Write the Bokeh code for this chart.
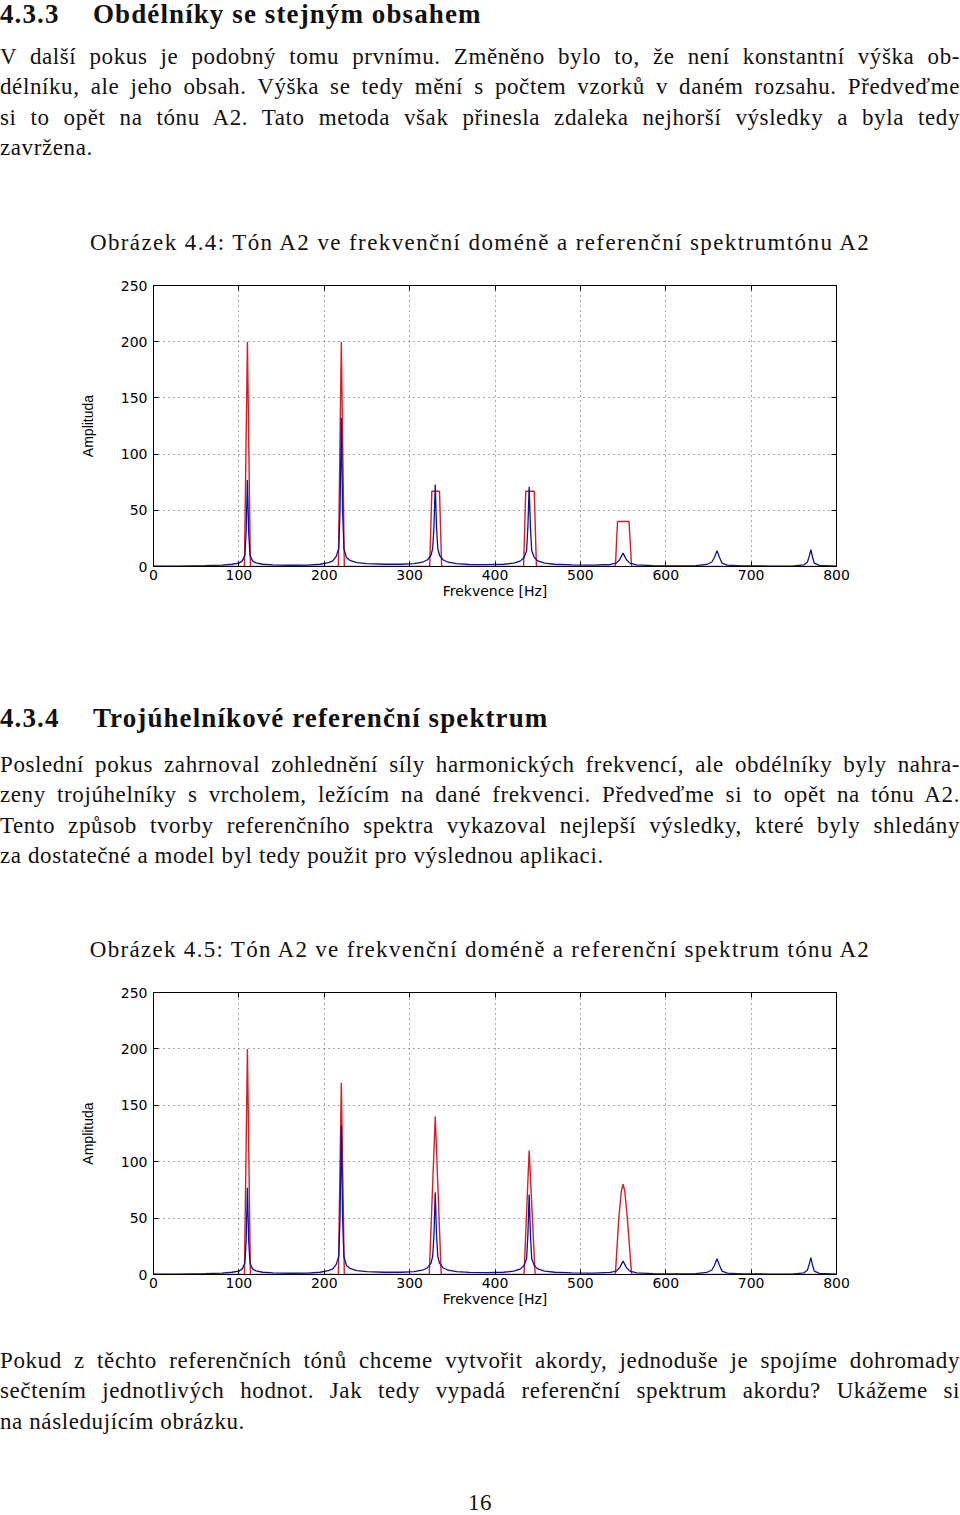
from bokeh.plotting import figure
from bokeh.models import Div, LinearAxis, FixedTicker, Range1d
from bokeh.layouts import column
from bokeh.embed import file_html
from bokeh.resources import INLINE

# ---------------- data ----------------
x_ticks = [0, 100, 200, 300, 400, 500, 600, 700, 800]
y_ticks = [0, 50, 100, 150, 200, 250]

# measured spectrum of tone A2 (blue)
blue_freq = [0, 30, 60, 80, 92, 100, 104, 107, 108.5, 110, 111.5, 113, 116, 120, 128, 140, 160, 180, 195,
             205, 210, 214, 217, 218.5, 220, 221.5, 223, 226, 230, 238, 250, 270, 290, 305, 315, 321, 325,
             327, 328.5, 330, 331.5, 333, 335, 339, 345, 355, 370, 390, 410, 422, 430, 434, 437, 438.5, 440,
             441.5, 443, 446, 450, 458, 470, 490, 515, 535, 542, 546, 548, 550, 552, 554, 558, 566, 585,
             610, 635, 648, 654, 657, 660, 663, 666, 672, 690, 720, 750, 762, 766, 768, 770, 772, 774, 780, 800]
blue_amp = [0.3, 0.4, 0.7, 1.2, 2, 3, 5, 10, 30, 77, 30, 10, 5, 3.2, 2, 1.4, 1.1, 1.2, 2,
            3.5, 5, 9, 16, 50, 132, 50, 16, 8, 5.5, 3.5, 2.6, 2, 2, 2.6, 3.8, 6, 10,
            16, 35, 73, 35, 16, 10, 6, 3.8, 2.5, 1.8, 1.6, 2, 3, 5, 8, 14, 35, 71,
            35, 14, 8, 5, 3, 2, 1.4, 1.2, 1.8, 3, 6, 9, 12, 9, 6, 3, 1.5, 0.8,
            0.6, 0.8, 1.8, 4, 8, 14, 8, 3, 1.2, 0.6, 0.4, 0.6, 1.5, 4, 9, 15, 8, 3, 1, 0.4]

# reference spectrum, rectangles of equal area (red, figure 4.4)
rect_freq = [0, 106.5, 110, 113.5, 216.5, 220, 223.5, 323.5, 326, 335, 337.5, 433.5, 436, 446, 448.5,
             541, 543.5, 557, 560, 800]
rect_amp = [0, 0, 200, 0, 0, 200, 0, 0, 67, 67, 0, 0, 67, 67, 0, 0, 40, 40, 0, 0]

# reference spectrum, triangles (red, figure 4.5)
tri_freq = [0, 106.5, 110, 113.5, 216.5, 220, 223.5, 323, 330, 337, 434, 440, 447, 541, 545, 548, 550,
            552, 555, 560, 800]
tri_amp = [0, 0, 200, 0, 0, 170, 0, 0, 140, 0, 0, 110, 0, 0, 50, 74, 80, 74, 50, 0, 0]

# ---------------- texts ----------------
head1_num, head1_title = "4.3.3", "Obdélníky se stejným obsahem"
para1 = [
    "V další pokus je podobný tomu prvnímu. Změněno bylo to, že není konstantní výška ob-",
    "délníku, ale jeho obsah. Výška se tedy mění s počtem vzorků v daném rozsahu. Předveďme",
    "si to opět na tónu A2. Tato metoda však přinesla zdaleka nejhorší výsledky a byla tedy",
    "zavržena.",
]
caption1 = "Obrázek 4.4: Tón A2 ve frekvenční doméně a referenční spektrumtónu A2"
head2_num, head2_title = "4.3.4", "Trojúhelníkové referenční spektrum"
para2 = [
    "Poslední pokus zahrnoval zohlednění síly harmonických frekvencí, ale obdélníky byly nahra-",
    "zeny trojúhelníky s vrcholem, ležícím na dané frekvenci. Předveďme si to opět na tónu A2.",
    "Tento způsob tvorby referenčního spektra vykazoval nejlepší výsledky, které byly shledány",
    "za dostatečné a model byl tedy použit pro výslednou aplikaci.",
]
caption2 = "Obrázek 4.5: Tón A2 ve frekvenční doméně a referenční spektrum tónu A2"
para3 = [
    "Pokud z těchto referenčních tónů chceme vytvořit akordy, jednoduše je spojíme dohromady",
    "sečtením jednotlivých hodnot. Jak tedy vypadá referenční spektrum akordu? Ukážeme si",
    "na následujícím obrázku.",
]
page_number = "16"
x_label = "Frekvence [Hz]"
y_label = "Amplituda"

# ---------------- styling helpers ----------------
W = 960
SERIF = "'Liberation Serif', 'Times New Roman', serif"
BODY = f"font-family:{SERIF}; font-size:23px; letter-spacing:0.6px; color:#111;"


def line(text, top, mode="justify", extra=""):
    if mode == "justify":
        align = "text-align:justify; text-align-last:justify;"
    elif mode == "center":
        align = "text-align:center;"
    else:
        align = "text-align:left;"
    return (f"<div style=\"position:absolute; left:0; top:{top}px; width:{W}px; height:30px; "
            f"line-height:30px; {BODY} {align} {extra}\">{text}</div>")


def heading(num, title, top, lh=30):
    st = (f"position:absolute; top:{top}px; height:{lh}px; line-height:{lh}px; font-family:{SERIF}; "
          f"font-size:27px; font-weight:bold; letter-spacing:1.1px; color:#111; white-space:nowrap;")
    return f"<div style=\"{st} left:0;\">{num}</div><div style=\"{st} left:93px;\">{title}</div>"


def paragraph(lines, top0, step=30.4):
    out = []
    for i, t in enumerate(lines):
        mode = "justify" if i < len(lines) - 1 else "left"
        out.append(line(t, round(top0 + i * step, 1), mode))
    return "".join(out)


def block(html, height):
    return Div(text=f"<div style=\"position:relative; width:{W}px; height:{height}px;\">{html}</div>",
               width=W, height=height, margin=0)


def make_chart(red_f, red_a, height):
    p = figure(width=W, height=height, x_range=Range1d(0, 800), y_range=Range1d(0, 250),
               output_backend="svg", toolbar_location=None,
               min_border_left=153, min_border_right=124, min_border_top=23, min_border_bottom=40,
               margin=0)
    p.background_fill_color = "white"
    p.border_fill_color = "white"
    p.outline_line_color = "black"
    p.outline_line_width = 1

    for ax in (p.xaxis[0], p.yaxis[0]):
        ax.major_tick_in = 5
        ax.major_tick_out = 0
        ax.minor_tick_line_color = None
        ax.axis_line_color = "black"
        ax.major_tick_line_color = "black"
        ax.major_label_text_font = "DejaVu Sans"
        ax.major_label_text_font_size = "14px"
        ax.major_label_text_color = "black"
        ax.axis_label_text_font_style = "normal"
        ax.axis_label_text_color = "black"
    p.xaxis[0].ticker = FixedTicker(ticks=x_ticks)
    p.yaxis[0].ticker = FixedTicker(ticks=y_ticks)
    p.xaxis[0].major_label_standoff = 3
    p.xaxis[0].axis_label = x_label
    p.xaxis[0].axis_label_text_font = "DejaVu Sans"
    p.xaxis[0].axis_label_text_font_size = "14px"
    p.xaxis[0].axis_label_standoff = 0
    p.yaxis[0].major_label_standoff = 6
    p.yaxis[0].axis_label = y_label
    p.yaxis[0].axis_label_text_font = "Liberation Sans"
    p.yaxis[0].axis_label_text_font_size = "14px"
    p.yaxis[0].axis_label_standoff = 22

    # box axes on top / right: inward ticks only, no labels
    top_ax = LinearAxis(ticker=FixedTicker(ticks=x_ticks), major_tick_in=5, major_tick_out=0,
                        minor_tick_line_color=None, major_label_text_color=None,
                        major_label_standoff=0, axis_line_color="black")
    right_ax = LinearAxis(ticker=FixedTicker(ticks=y_ticks), major_tick_in=5, major_tick_out=0,
                          minor_tick_line_color=None, major_label_text_color=None,
                          major_label_standoff=0, axis_line_color="black")
    p.add_layout(top_ax, "above")
    p.add_layout(right_ax, "right")

    p.xgrid[0].ticker = FixedTicker(ticks=x_ticks)
    p.ygrid[0].ticker = FixedTicker(ticks=y_ticks)
    for g in (p.xgrid[0], p.ygrid[0]):
        g.grid_line_color = "#444444"
        g.grid_line_dash = "1 4"
        g.grid_line_width = 1
        g.grid_line_alpha = 0.9

    p.line(red_f, red_a, line_color="#d0202a", line_width=1.4)
    p.line(blue_freq, blue_amp, line_color="#10109e", line_width=1.3)
    return p


# ---------------- page ----------------
top_html = (heading(head1_num, head1_title, 0, 28) + paragraph(para1, 42)
            + line(caption1, 228, "center", "letter-spacing:1.4px;"))
div1 = block(top_html, 262)

chart1 = make_chart(rect_freq, rect_amp, 344)

mid_html = (heading(head2_num, head2_title, 97) + paragraph(para2, 144)
            + line(caption2, 329, "center", "letter-spacing:1.3px;"))
div2 = block(mid_html, 363)

chart2 = make_chart(tri_freq, tri_amp, 345)

bottom_html = paragraph(para3, 32) + line(page_number, 174, "center")
div3 = block(bottom_html, 201)

page = column(div1, chart1, div2, chart2, div3, spacing=0)

open("out.html", "w").write(file_html(page, INLINE))
